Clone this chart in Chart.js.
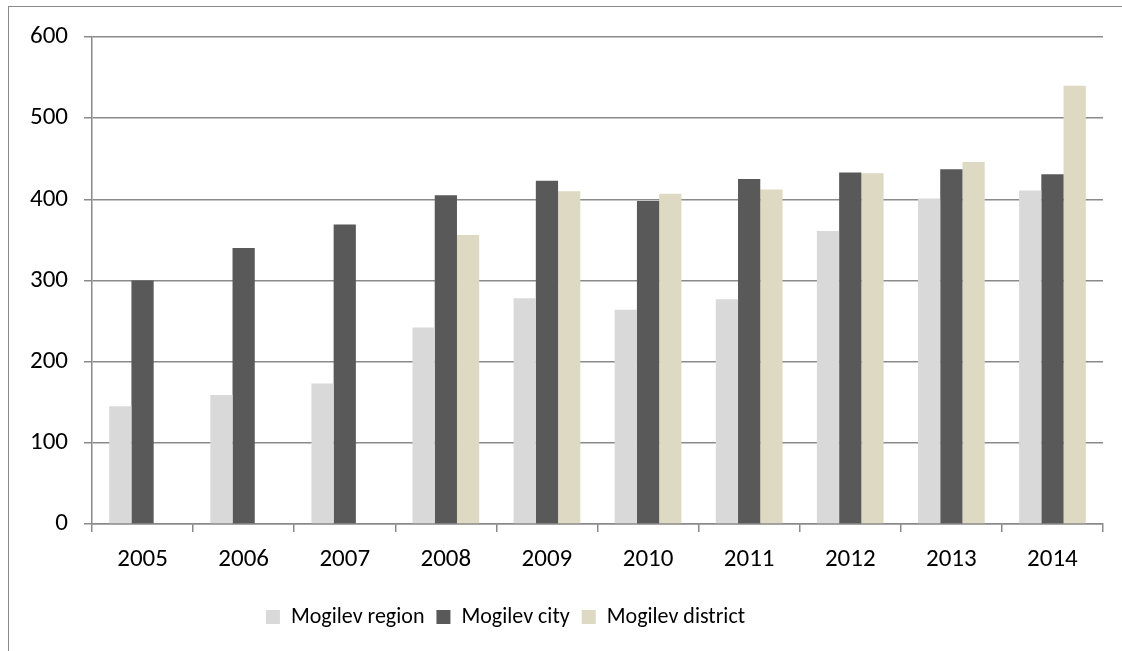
<!DOCTYPE html>
<html>
<head>
<meta charset="utf-8">
<script src="https://cdn.jsdelivr.net/npm/chart.js@4.4.1/dist/chart.umd.min.js"></script>
<style>
  html, body { margin: 0; padding: 0; background: #fff; overflow: hidden; }
  #frame {
    position: absolute; left: 8px; top: 6px; width: 1200px; height: 700px;
    border: 1.5px solid #8a8a8a;
  }
  #wrap { position: absolute; left: 0; top: 0; width: 1122px; height: 651px; }
</style>
</head>
<body>
<div id="frame"></div>
<div id="wrap"><canvas id="barChart"></canvas></div>
<script>
var years = ['2005', '2006', '2007', '2008', '2009', '2010', '2011', '2012', '2013', '2014'];
var regionValues = [145, 159, 173, 242, 278, 264, 277, 361, 401, 411];
var cityValues = [300, 340, 369, 405, 423, 398, 425, 433, 437, 431];
var districtValues = [null, null, null, 356, 410, 407, 412, 432, 446, 540];
var yTicks = [0, 100, 200, 300, 400, 500, 600];

var gridColor = '#8a8a8a';
var fontFamily = 'Carlito, Calibri, Lato, sans-serif';

// nudge the legend a bit left so it sits under the middle of the plot
var legendShift = {
    id: 'legendShift',
    afterLayout: function(chart) {
        chart.legend.left -= 46;
        chart.legend.right -= 46;
    }
};

var ctx = document.getElementById('barChart').getContext('2d');

var barChart = new Chart(ctx, {
    type: 'bar',
    data: {
        labels: years,
        datasets: [{
            label: 'Mogilev region',
            data: regionValues,
            backgroundColor: '#d9d9d9'
        }, {
            label: 'Mogilev city',
            data: cityValues,
            backgroundColor: '#595959'
        }, {
            label: 'Mogilev district',
            data: districtValues,
            backgroundColor: '#ddd9c3'
        }]
    },
    options: {
        responsive: true,
        maintainAspectRatio: false,
        animation: false,
        datasets: {
            bar: {
                barPercentage: 1,
                categoryPercentage: 0.66,
                borderWidth: 0
            }
        },
        layout: {
            padding: { left: 0, top: 37, right: 19, bottom: 13 }
        },
        scales: {
            x: {
                afterFit: function(scale) {
                    scale.height = 70;
                },
                grid: {
                    offset: true,
                    drawOnChartArea: false,
                    drawTicks: true,
                    tickLength: 8,
                    color: gridColor,
                    lineWidth: 1.5
                },
                border: { color: gridColor, width: 1.5 },
                ticks: {
                    color: '#000',
                    padding: 13,
                    font: { family: fontFamily, size: 25 }
                }
            },
            y: {
                min: 0,
                max: 600,
                afterBuildTicks: function(scale) {
                    scale.ticks = yTicks.map(function(v) { return { value: v }; });
                },
                afterFit: function(scale) {
                    scale.width = 92;
                },
                grid: {
                    color: gridColor,
                    lineWidth: 1.5,
                    tickLength: 8
                },
                border: { color: gridColor, width: 1.5 },
                ticks: {
                    color: '#000',
                    padding: 16,
                    font: { family: fontFamily, size: 25 }
                }
            }
        },
        plugins: {
            legend: {
                position: 'bottom',
                labels: {
                    color: '#000',
                    boxWidth: 14,
                    boxHeight: 14,
                    padding: 12,
                    font: { family: fontFamily, size: 22 }
                }
            },
            tooltip: { enabled: false }
        }
    },
    plugins: [legendShift]
});
</script>
</body>
</html>
